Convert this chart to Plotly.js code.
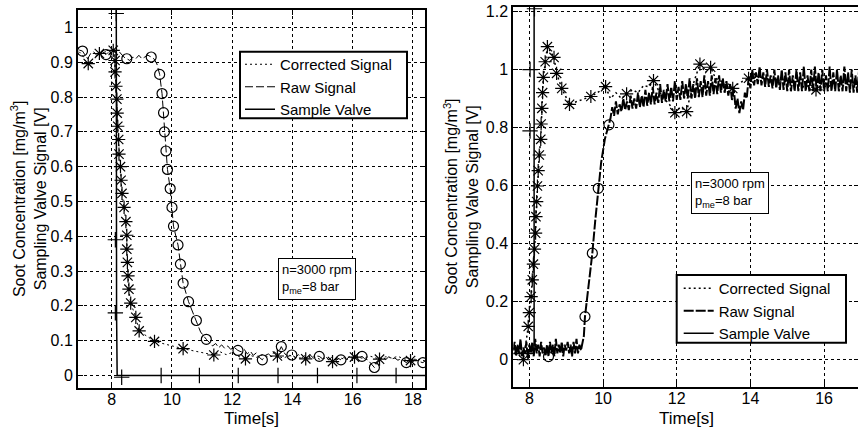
<!DOCTYPE html>
<html>
<head>
<meta charset="utf-8">
<script src="https://cdn.plot.ly/plotly-3.0.1.min.js"></script>
<style>
html,body{margin:0;padding:0;overflow:hidden;background:#fff;}
#chart{width:860px;height:427px;}
</style>
</head>
<body>
<div id="chart"></div>
<script>
// ---------- DATA (x = time [s], y = signal) ----------
const xTicks = [8, 10, 12, 14, 16, 18];
const legendNames = ['Corrected Signal', 'Raw Signal', 'Sample Valve'];
const annotationText = 'n=3000 rpm<br>p<sub>me</sub>=8 bar';
const xTitle = 'Time[s]';
const yTitle = 'Soot Concentration [mg/m<sup>3</sup>]<br>Sampling Valve Signal [V]';

// Left panel
const leftCorrectedLine = [[6.92,0.93],[7.03,0.92],[7.12,0.905],[7.22,0.896],[7.32,0.905],[7.42,0.915],[7.5,0.92],[7.59,0.925],[7.7,0.928],[7.8,0.93],[7.92,0.925],[8.05,0.934],[8.11,0.905],[8.11,0.872],[8.14,0.831],[8.17,0.794],[8.18,0.754],[8.2,0.716],[8.23,0.678],[8.24,0.636],[8.29,0.6],[8.31,0.561],[8.34,0.523],[8.41,0.483],[8.47,0.442],[8.5,0.403],[8.5,0.363],[8.52,0.325],[8.54,0.286],[8.57,0.248],[8.63,0.208],[8.8,0.167],[8.91,0.128],[9.42,0.098],[10.37,0.077],[11.39,0.059],[11.6,0.068],[11.8,0.06],[12.0,0.066],[12.2,0.055],[12.44,0.048],[12.6,0.058],[12.8,0.052],[13.0,0.06],[13.2,0.054],[13.5,0.056],[13.7,0.05],[13.9,0.058],[14.1,0.052],[14.44,0.048],[14.7,0.055],[14.9,0.047],[15.1,0.05],[15.33,0.04],[15.6,0.05],[15.8,0.046],[16.06,0.053],[16.3,0.05],[16.6,0.055],[16.89,0.047],[17.1,0.054],[17.3,0.05],[17.5,0.055],[17.7,0.048],[17.92,0.043],[18.1,0.048],[18.4,0.042]];
const leftCorrectedMarks = [[7.22,0.896],[7.59,0.925],[8.05,0.934],[8.11,0.905],[8.11,0.872],[8.14,0.831],[8.17,0.794],[8.18,0.754],[8.2,0.716],[8.23,0.678],[8.24,0.636],[8.29,0.6],[8.31,0.561],[8.34,0.523],[8.41,0.483],[8.47,0.442],[8.5,0.403],[8.5,0.363],[8.52,0.325],[8.54,0.286],[8.57,0.248],[8.63,0.208],[8.8,0.167],[8.91,0.128],[9.42,0.098],[10.37,0.077],[11.39,0.059],[12.44,0.048],[13.5,0.056],[14.44,0.048],[15.33,0.04],[16.06,0.053],[16.89,0.047],[17.92,0.043]];
const leftRawLine = [[6.92,0.935],[7.03,0.932],[7.12,0.92],[7.2,0.91],[7.3,0.925],[7.4,0.93],[7.5,0.92],[7.6,0.925],[7.7,0.93],[7.81,0.922],[7.9,0.93],[8.0,0.935],[8.1,0.93],[8.2,0.935],[8.3,0.925],[8.4,0.915],[8.5,0.91],[8.6,0.905],[8.7,0.915],[8.8,0.91],[8.9,0.92],[9.0,0.91],[9.1,0.915],[9.2,0.92],[9.31,0.915],[9.4,0.91],[9.5,0.895],[9.59,0.865],[9.67,0.81],[9.72,0.755],[9.75,0.70],[9.8,0.645],[9.85,0.592],[9.94,0.537],[10.0,0.483],[10.05,0.429],[10.2,0.375],[10.28,0.32],[10.37,0.265],[10.55,0.212],[10.7,0.18],[10.81,0.158],[10.95,0.125],[11.14,0.104],[11.25,0.095],[11.35,0.085],[11.45,0.092],[11.55,0.08],[11.65,0.088],[11.75,0.078],[11.85,0.085],[11.95,0.075],[12.05,0.082],[12.19,0.072],[12.3,0.068],[12.4,0.075],[12.5,0.062],[12.6,0.07],[12.7,0.058],[12.8,0.065],[12.9,0.052],[13.0,0.045],[13.1,0.058],[13.2,0.062],[13.3,0.055],[13.4,0.068],[13.5,0.06],[13.63,0.083],[13.75,0.062],[13.85,0.055],[13.98,0.059],[14.1,0.052],[14.2,0.06],[14.3,0.05],[14.4,0.057],[14.5,0.048],[14.6,0.058],[14.7,0.05],[14.8,0.056],[14.89,0.055],[15.0,0.048],[15.1,0.055],[15.2,0.045],[15.3,0.052],[15.4,0.044],[15.5,0.05],[15.61,0.045],[15.7,0.052],[15.8,0.047],[15.9,0.055],[16.0,0.05],[16.1,0.058],[16.2,0.05],[16.31,0.055],[16.4,0.048],[16.5,0.045],[16.6,0.035],[16.72,0.023],[16.8,0.035],[16.9,0.045],[17.0,0.052],[17.1,0.046],[17.2,0.054],[17.3,0.048],[17.4,0.05],[17.5,0.044],[17.6,0.048],[17.78,0.037],[17.9,0.045],[18.0,0.04],[18.1,0.046],[18.2,0.04],[18.33,0.037],[18.4,0.042]];
const leftRawMarks = [[7.03,0.932],[7.81,0.922],[8.5,0.91],[9.31,0.915],[9.59,0.865],[9.67,0.81],[9.72,0.755],[9.75,0.70],[9.8,0.645],[9.85,0.592],[9.94,0.537],[10.0,0.483],[10.05,0.429],[10.2,0.375],[10.28,0.32],[10.37,0.265],[10.55,0.212],[10.81,0.158],[11.14,0.104],[12.19,0.072],[13.0,0.045],[13.63,0.083],[13.98,0.059],[14.89,0.055],[15.61,0.045],[16.31,0.055],[16.72,0.023],[17.78,0.037],[18.33,0.037]];
const leftValveLine = [[8.15,1.2],[8.15,1.04],[8.15,0.39],[8.16,0.18],[8.18,0],[8.33,0],[9.64,0],[10.91,0],[12.2,0],[13.52,0],[14.83,0],[16.14,0],[17.44,0],[18.5,0]];
const leftValveMarks = [[8.15,1.04],[8.12,0.39],[8.12,0.18],[8.33,-0.005],[9.64,0],[10.91,0],[12.2,0],[13.52,0],[14.83,0],[16.14,0],[17.44,0]];

// Right panel
const rightCorrectedLine = [[7.56,0.04],[7.62,0.02],[7.68,0.05],[7.74,0.01],[7.8,0.03],[7.84,-0.002],[7.9,0.05],[7.97,0.113],[8.0,0.161],[8.05,0.216],[8.08,0.274],[8.11,0.328],[8.14,0.38],[8.17,0.435],[8.18,0.492],[8.2,0.544],[8.22,0.598],[8.24,0.651],[8.27,0.705],[8.31,0.759],[8.32,0.812],[8.34,0.866],[8.36,0.92],[8.38,0.973],[8.43,1.027],[8.49,1.079],[8.67,1.042],[8.74,0.987],[8.88,0.935],[9.09,0.88],[9.3,0.89],[9.5,0.9],[9.67,0.907],[9.85,0.92],[10.07,0.941],[10.2,0.9],[10.35,0.92],[10.5,0.9],[10.64,0.916],[10.8,0.93],[10.95,0.92],[11.1,0.945],[11.25,0.94],[11.37,0.962],[11.5,0.93],[11.65,0.9],[11.8,0.88],[11.95,0.851],[12.1,0.87],[12.27,0.855],[12.4,0.93],[12.5,0.97],[12.63,1.019],[12.78,0.99],[12.92,1.008],[13.05,0.97],[13.2,0.96],[13.35,0.945],[13.52,0.935],[13.65,0.95],[13.8,0.96],[13.95,0.97],[14.1,0.985],[14.25,0.97],[14.4,0.975],[14.55,0.96],[14.7,0.965],[14.85,0.955],[15.0,0.96],[15.15,0.95],[15.3,0.955],[15.45,0.94],[15.6,0.945],[15.78,0.93],[15.95,0.945],[16.1,0.94],[16.3,0.955],[16.5,0.945],[16.7,0.95],[16.9,0.94],[17.1,0.95]];
const rightCorrectedMarks = [[7.84,-0.002],[7.97,0.113],[8.0,0.161],[8.05,0.216],[8.08,0.274],[8.11,0.328],[8.14,0.38],[8.17,0.435],[8.18,0.492],[8.2,0.544],[8.22,0.598],[8.24,0.651],[8.27,0.705],[8.31,0.759],[8.32,0.812],[8.34,0.866],[8.36,0.92],[8.38,0.973],[8.43,1.027],[8.49,1.079],[8.67,1.042],[8.74,0.987],[8.88,0.935],[9.09,0.88],[9.67,0.907],[10.07,0.941],[10.64,0.916],[11.37,0.962],[11.95,0.851],[12.27,0.855],[12.63,1.019],[12.92,1.008],[13.52,0.935],[13.95,0.97],[15.78,0.93]];
const rightRawLine = [[7.56,0.03],[7.60,0.06],[7.64,0.01],[7.68,0.05],[7.72,0.02],[7.76,0.07],[7.80,0.01],[7.84,0.04],[7.88,0.02],[7.92,0.06],[7.96,0.0],[8.00,0.05],[8.04,0.02],[8.08,0.06],[8.12,0.01],[8.16,0.07],[8.20,0.02],[8.24,0.05],[8.28,0.01],[8.32,0.06],[8.36,0.02],[8.40,0.04],[8.44,0.01],[8.48,0.05],[8.52,0.009],[8.56,0.06],[8.60,0.02],[8.64,0.05],[8.68,0.01],[8.72,0.07],[8.76,0.02],[8.80,0.05],[8.84,0.02],[8.88,0.06],[8.92,0.01],[8.96,0.05],[9.00,0.03],[9.04,0.06],[9.08,0.02],[9.12,0.05],[9.16,0.01],[9.20,0.06],[9.24,0.02],[9.28,0.07],[9.32,0.02],[9.36,0.05],[9.40,0.03],[9.44,0.06],[9.48,0.08],[9.51,0.147],[9.61,0.26],[9.71,0.366],[9.79,0.48],[9.87,0.59],[9.95,0.68],[10.05,0.76],[10.16,0.809],
[10.20,0.83],[10.25,0.87],[10.30,0.84],[10.35,0.89],[10.40,0.845],[10.45,0.88],[10.50,0.855],[10.55,0.9],[10.60,0.86],[10.65,0.89],[10.70,0.86],[10.75,0.91],[10.80,0.865],[10.85,0.9],[10.90,0.865],[10.95,0.92],[11.00,0.87],[11.05,0.91],[11.10,0.87],[11.15,0.93],[11.20,0.875],[11.25,0.92],[11.30,0.88],[11.35,0.94],[11.40,0.88],[11.45,0.92],[11.50,0.885],[11.55,0.95],[11.60,0.885],[11.65,0.93],[11.70,0.89],[11.75,0.95],[11.80,0.89],[11.85,0.94],[11.90,0.89],[11.95,0.96],[12.00,0.895],[12.05,0.94],[12.10,0.895],[12.15,0.96],[12.20,0.9],[12.25,0.95],[12.30,0.9],[12.35,0.97],[12.40,0.9],[12.45,0.95],[12.50,0.9],[12.55,0.97],[12.60,0.905],[12.65,0.96],[12.70,0.905],[12.75,0.98],[12.80,0.91],[12.85,0.96],[12.90,0.91],[12.95,0.98],[13.00,0.915],[13.05,0.97],[13.10,0.915],[13.15,0.98],[13.20,0.92],[13.25,0.97],[13.30,0.92],[13.35,0.96],[13.40,0.91],[13.45,0.95],[13.50,0.895],[13.55,0.93],[13.60,0.865],[13.65,0.9],[13.70,0.85],[13.75,0.89],[13.80,0.86],[13.85,0.92],[13.90,0.9],[13.95,0.97],[14.00,0.935],[14.05,1.0],[14.10,0.945],[14.15,0.99],[14.20,0.95],[14.25,1.01],[14.30,0.945],[14.35,0.99],[14.40,0.94],[14.45,1.0],[14.50,0.94],[14.55,0.98],[14.60,0.935],[14.65,1.0],[14.70,0.935],[14.75,0.98],[14.80,0.93],[14.85,1.0],[14.90,0.93],[14.95,0.99],[15.00,0.925],[15.05,1.0],[15.10,0.925],[15.15,0.98],[15.20,0.925],[15.25,1.0],[15.30,0.925],[15.35,0.99],[15.40,0.925],[15.45,1.01],[15.50,0.925],[15.55,0.98],[15.60,0.925],[15.65,1.0],[15.70,0.925],[15.75,1.01],[15.80,0.925],[15.85,0.99],[15.90,0.925],[15.95,1.0],[16.00,0.925],[16.05,0.98],[16.10,0.925],[16.15,1.01],[16.20,0.925],[16.25,0.99],[16.30,0.925],[16.35,1.0],[16.40,0.925],[16.45,0.98],[16.50,0.925],[16.55,1.01],[16.60,0.925],[16.65,0.99],[16.70,0.92],[16.75,1.0],[16.80,0.92],[16.85,0.98],[16.90,0.92],[16.95,1.0],[17.00,0.92]];
const rightRawMarks = [[8.52,0.009],[9.51,0.147],[9.71,0.366],[9.87,0.59],[10.16,0.809]];
const rightValveLine = [[7.5,0.02],[8.13,0.02],[8.13,0.79],[8.13,1.0],[8.13,1.21],[8.13,1.3]];
const rightValveMarks = [[8.02,0.788],[8.02,1.0],[8.14,1.21]];

// ---------- RENDER ----------
const FONT = 'Liberation Sans, Arial, Helvetica, sans-serif';
const xs = a => a.map(p => p[0]);
const ys = a => a.map(p => p[1]);
const DOT = '2px,3px', DASH = '8px,3px', DASH_DENSE = '10px,2px';

function lineTrace(pts, name, dash, ax, lg, show, w) {
  return {x: xs(pts), y: ys(pts), type: 'scatter', mode: 'lines', name: name,
    line: {color: '#000', width: w || 1, dash: dash}, xaxis: ax[0], yaxis: ax[1],
    legend: lg, showlegend: show, hoverinfo: 'skip'};
}
function markTrace(pts, symbol, size, ax) {
  return {x: xs(pts), y: ys(pts), type: 'scatter', mode: 'markers',
    marker: {symbol: symbol, size: size, color: '#000', line: {color: '#000', width: 1.2}},
    xaxis: ax[0], yaxis: ax[1], showlegend: false, hoverinfo: 'skip'};
}
const L = ['x', 'y'], R = ['x2', 'y2'];
const data = [
  lineTrace(leftCorrectedLine, legendNames[0], DOT, L, 'legend', true),
  lineTrace(leftRawLine, legendNames[1], DASH, L, 'legend', true),
  lineTrace(leftValveLine, legendNames[2], 'solid', L, 'legend', true, 1.5),
  markTrace(leftCorrectedMarks, 'asterisk-open', 11, L),
  markTrace(leftRawMarks, 'circle-open', 10, L),
  markTrace(leftValveMarks, 'cross-thin-open', 11, L),
  lineTrace(rightCorrectedLine, legendNames[0], DOT, R, 'legend2', true, 1.5),
  lineTrace(rightRawLine, legendNames[1], DASH_DENSE, R, 'legend2', true, 2),
  lineTrace(rightValveLine, legendNames[2], 'solid', R, 'legend2', true, 1.5),
  markTrace(rightCorrectedMarks, 'asterisk-open', 11, R),
  markTrace(rightRawMarks, 'circle-open', 10, R),
  markTrace(rightValveMarks, 'cross-thin-open', 11, R)
];

const W = 860, H = 427;
const axCommon = {
  showline: true, linecolor: '#000', linewidth: 2, mirror: 'ticks',
  ticks: 'inside', ticklen: 5, tickwidth: 1, tickcolor: '#000',
  showgrid: true, gridcolor: '#000', gridwidth: 1, griddash: 'dot',
  zeroline: false, tickfont: {family: FONT, size: 16, color: '#000'}
};
function box(x0, y0, x1, y1) {
  return {type: 'rect', xref: 'paper', yref: 'paper', x0: x0/W, x1: x1/W, y0: 1-y1/H, y1: 1-y0/H,
    line: {color: '#000', width: 2}, fillcolor: '#fff', layer: 'above'};
}
function legendCfg(x, y) {
  return {x: x/W, y: 1-y/H, xanchor: 'left', yanchor: 'top', bgcolor: 'rgba(0,0,0,0)',
    borderwidth: 0, font: {family: FONT, size: 15, color: '#000'}};
}
function note(x, y) {
  return {xref: 'paper', yref: 'paper', x: x/W, y: 1-y/H, xanchor: 'left', yanchor: 'top',
    text: annotationText, showarrow: false, align: 'left', bgcolor: '#fff',
    bordercolor: '#000', borderwidth: 1, borderpad: 3, font: {family: FONT, size: 13, color: '#000'}};
}
function xTitleNote(xc) {
  return {xref: 'paper', yref: 'paper', x: xc/W, y: 1-418/H, xanchor: 'center', yanchor: 'middle',
    text: xTitle, showarrow: false, font: {family: FONT, size: 17, color: '#000'}};
}
const layout = {
  width: W, height: H, margin: {l: 0, r: 0, t: 0, b: 0},
  paper_bgcolor: '#fff', plot_bgcolor: '#fff',
  font: {family: FONT, color: '#000'},
  xaxis: Object.assign({}, axCommon, {domain: [78/W, 425/W], range: [6.88, 18.4], anchor: 'y',
    tickvals: xTicks, ticklabelstandoff: -4}),
  yaxis: Object.assign({}, axCommon, {domain: [1-387.7/H, 1-10/H], range: [-0.035, 1.05], anchor: 'x',
    dtick: 0.1, tick0: 0, title: {text: yTitle, font: {size: 16}, standoff: 0}}),
  xaxis2: Object.assign({}, axCommon, {domain: [513.3/W, 859/W], range: [7.565, 16.947], anchor: 'y2',
    tickvals: xTicks, ticklabelstandoff: -4}),
  yaxis2: Object.assign({}, axCommon, {domain: [1-386.7/H, 1-6.7/H], range: [-0.095, 1.217], anchor: 'x2',
    dtick: 0.2, tick0: 0, title: {text: yTitle, font: {size: 16}, standoff: 3}}),
  legend: legendCfg(240, 48),
  legend2: legendCfg(678.7, 272),
  shapes: [box(240, 51.7, 407, 118.3), box(676.7, 275, 846, 342.7)],
  annotations: [note(278, 258), note(691, 172), xTitleNote(251.5), xTitleNote(686)]
};
Plotly.newPlot('chart', data, layout, {staticPlot: true, displayModeBar: false});
</script>
</body>
</html>
